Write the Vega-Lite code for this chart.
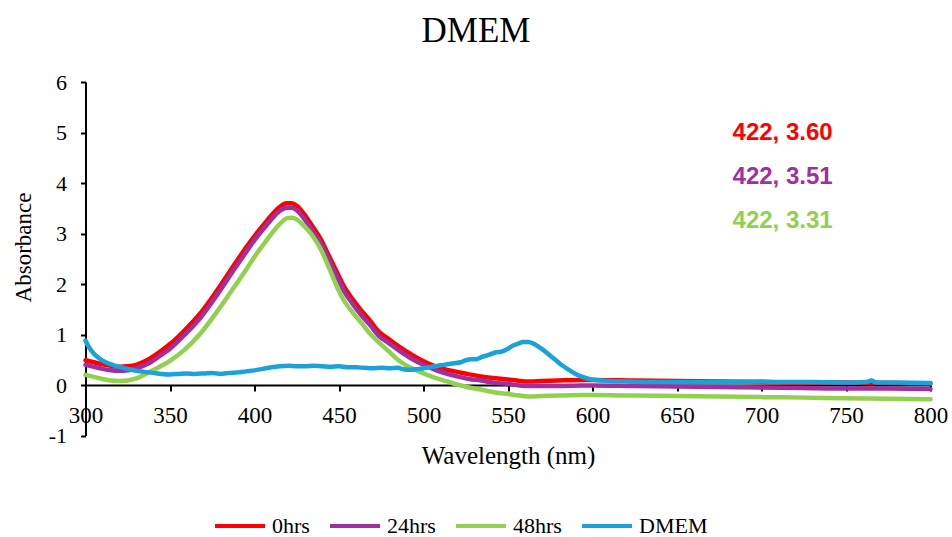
{
  "$schema": "https://vega.github.io/schema/vega-lite/v6.json",
  "width": 845,
  "height": 353.5,
  "autosize": {"type": "none"},
  "padding": {"left": 85.5, "top": 82, "right": 21.5, "bottom": 101.5},
  "background": "white",
  "config": {"view": {"stroke": null}},
  "title": {
    "text": "DMEM",
    "font": "Liberation Serif",
    "fontSize": 35,
    "fontWeight": "normal",
    "color": "black",
    "anchor": "middle",
    "dx": -32,
    "offset": 22
  },
  "datasets": {
    "spectra": [
      {"series":"0hrs","wl":300,"abs":0.49},{"series":"0hrs","wl":305,"abs":0.45},{"series":"0hrs","wl":310,"abs":0.41},{"series":"0hrs","wl":315,"abs":0.38},{"series":"0hrs","wl":320,"abs":0.36},{"series":"0hrs","wl":325,"abs":0.37},{"series":"0hrs","wl":330,"abs":0.40},{"series":"0hrs","wl":338,"abs":0.52},{"series":"0hrs","wl":345,"abs":0.68},{"series":"0hrs","wl":350,"abs":0.81},{"series":"0hrs","wl":358,"abs":1.06},{"series":"0hrs","wl":368,"abs":1.42},{"series":"0hrs","wl":378,"abs":1.88},{"series":"0hrs","wl":388,"abs":2.38},{"series":"0hrs","wl":395,"abs":2.72},{"series":"0hrs","wl":400,"abs":2.95},{"series":"0hrs","wl":407,"abs":3.24},{"series":"0hrs","wl":415,"abs":3.53},{"series":"0hrs","wl":419,"abs":3.60},{"series":"0hrs","wl":422,"abs":3.60},{"series":"0hrs","wl":425,"abs":3.55},{"series":"0hrs","wl":429,"abs":3.40},{"series":"0hrs","wl":434,"abs":3.16},{"series":"0hrs","wl":439,"abs":2.90},{"series":"0hrs","wl":444,"abs":2.56},{"series":"0hrs","wl":449,"abs":2.22},{"series":"0hrs","wl":453,"abs":1.95},{"series":"0hrs","wl":458,"abs":1.70},{"series":"0hrs","wl":463,"abs":1.48},{"series":"0hrs","wl":468,"abs":1.29},{"series":"0hrs","wl":474,"abs":1.04},{"series":"0hrs","wl":479,"abs":0.92},{"series":"0hrs","wl":486,"abs":0.75},{"series":"0hrs","wl":493,"abs":0.60},{"series":"0hrs","wl":500,"abs":0.47},{"series":"0hrs","wl":507,"abs":0.37},{"series":"0hrs","wl":514,"abs":0.30},{"series":"0hrs","wl":520,"abs":0.26},{"series":"0hrs","wl":527,"abs":0.21},{"series":"0hrs","wl":534,"abs":0.17},{"series":"0hrs","wl":541,"abs":0.14},{"series":"0hrs","wl":550,"abs":0.11},{"series":"0hrs","wl":557,"abs":0.08},{"series":"0hrs","wl":563,"abs":0.07},{"series":"0hrs","wl":570,"abs":0.08},{"series":"0hrs","wl":580,"abs":0.09},{"series":"0hrs","wl":593,"abs":0.10},{"series":"0hrs","wl":600,"abs":0.10},{"series":"0hrs","wl":625,"abs":0.09},{"series":"0hrs","wl":650,"abs":0.08},{"series":"0hrs","wl":675,"abs":0.07},{"series":"0hrs","wl":700,"abs":0.06},{"series":"0hrs","wl":725,"abs":0.05},{"series":"0hrs","wl":750,"abs":0.05},{"series":"0hrs","wl":775,"abs":0.04},{"series":"0hrs","wl":800,"abs":0.03},

      {"series":"24hrs","wl":300,"abs":0.40},{"series":"24hrs","wl":305,"abs":0.36},{"series":"24hrs","wl":310,"abs":0.32},{"series":"24hrs","wl":315,"abs":0.29},{"series":"24hrs","wl":320,"abs":0.28},{"series":"24hrs","wl":325,"abs":0.29},{"series":"24hrs","wl":330,"abs":0.33},{"series":"24hrs","wl":338,"abs":0.44},{"series":"24hrs","wl":345,"abs":0.60},{"series":"24hrs","wl":350,"abs":0.72},{"series":"24hrs","wl":358,"abs":0.97},{"series":"24hrs","wl":368,"abs":1.33},{"series":"24hrs","wl":378,"abs":1.79},{"series":"24hrs","wl":388,"abs":2.29},{"series":"24hrs","wl":395,"abs":2.63},{"series":"24hrs","wl":400,"abs":2.87},{"series":"24hrs","wl":407,"abs":3.16},{"series":"24hrs","wl":415,"abs":3.45},{"series":"24hrs","wl":419,"abs":3.51},{"series":"24hrs","wl":422,"abs":3.51},{"series":"24hrs","wl":425,"abs":3.46},{"series":"24hrs","wl":429,"abs":3.31},{"series":"24hrs","wl":434,"abs":3.07},{"series":"24hrs","wl":439,"abs":2.82},{"series":"24hrs","wl":444,"abs":2.48},{"series":"24hrs","wl":449,"abs":2.13},{"series":"24hrs","wl":453,"abs":1.86},{"series":"24hrs","wl":458,"abs":1.61},{"series":"24hrs","wl":463,"abs":1.39},{"series":"24hrs","wl":468,"abs":1.20},{"series":"24hrs","wl":474,"abs":0.96},{"series":"24hrs","wl":479,"abs":0.84},{"series":"24hrs","wl":486,"abs":0.67},{"series":"24hrs","wl":493,"abs":0.52},{"series":"24hrs","wl":500,"abs":0.40},{"series":"24hrs","wl":507,"abs":0.30},{"series":"24hrs","wl":514,"abs":0.22},{"series":"24hrs","wl":520,"abs":0.17},{"series":"24hrs","wl":527,"abs":0.12},{"series":"24hrs","wl":534,"abs":0.09},{"series":"24hrs","wl":541,"abs":0.05},{"series":"24hrs","wl":550,"abs":0.02},{"series":"24hrs","wl":557,"abs":-0.01},{"series":"24hrs","wl":563,"abs":-0.02},{"series":"24hrs","wl":570,"abs":-0.02},{"series":"24hrs","wl":580,"abs":-0.02},{"series":"24hrs","wl":593,"abs":-0.01},{"series":"24hrs","wl":600,"abs":-0.01},{"series":"24hrs","wl":625,"abs":-0.02},{"series":"24hrs","wl":650,"abs":-0.03},{"series":"24hrs","wl":675,"abs":-0.04},{"series":"24hrs","wl":700,"abs":-0.05},{"series":"24hrs","wl":725,"abs":-0.06},{"series":"24hrs","wl":750,"abs":-0.07},{"series":"24hrs","wl":775,"abs":-0.07},{"series":"24hrs","wl":800,"abs":-0.08},

      {"series":"48hrs","wl":300,"abs":0.20},{"series":"48hrs","wl":305,"abs":0.16},{"series":"48hrs","wl":310,"abs":0.12},{"series":"48hrs","wl":315,"abs":0.09},{"series":"48hrs","wl":320,"abs":0.08},{"series":"48hrs","wl":325,"abs":0.09},{"series":"48hrs","wl":330,"abs":0.13},{"series":"48hrs","wl":338,"abs":0.26},{"series":"48hrs","wl":345,"abs":0.38},{"series":"48hrs","wl":350,"abs":0.48},{"series":"48hrs","wl":358,"abs":0.68},{"series":"48hrs","wl":368,"abs":1.02},{"series":"48hrs","wl":378,"abs":1.46},{"series":"48hrs","wl":388,"abs":1.94},{"series":"48hrs","wl":395,"abs":2.28},{"series":"48hrs","wl":400,"abs":2.54},{"series":"48hrs","wl":407,"abs":2.86},{"series":"48hrs","wl":415,"abs":3.19},{"series":"48hrs","wl":419,"abs":3.30},{"series":"48hrs","wl":422,"abs":3.31},{"series":"48hrs","wl":425,"abs":3.28},{"series":"48hrs","wl":429,"abs":3.16},{"series":"48hrs","wl":434,"abs":2.97},{"series":"48hrs","wl":439,"abs":2.70},{"series":"48hrs","wl":444,"abs":2.33},{"series":"48hrs","wl":449,"abs":1.93},{"series":"48hrs","wl":453,"abs":1.67},{"series":"48hrs","wl":458,"abs":1.44},{"series":"48hrs","wl":463,"abs":1.24},{"series":"48hrs","wl":468,"abs":1.03},{"series":"48hrs","wl":474,"abs":0.83},{"series":"48hrs","wl":479,"abs":0.68},{"series":"48hrs","wl":486,"abs":0.47},{"series":"48hrs","wl":493,"abs":0.33},{"series":"48hrs","wl":500,"abs":0.23},{"series":"48hrs","wl":507,"abs":0.14},{"series":"48hrs","wl":514,"abs":0.07},{"series":"48hrs","wl":520,"abs":0.01},{"series":"48hrs","wl":527,"abs":-0.05},{"series":"48hrs","wl":534,"abs":-0.09},{"series":"48hrs","wl":541,"abs":-0.14},{"series":"48hrs","wl":550,"abs":-0.18},{"series":"48hrs","wl":557,"abs":-0.21},{"series":"48hrs","wl":563,"abs":-0.23},{"series":"48hrs","wl":570,"abs":-0.22},{"series":"48hrs","wl":580,"abs":-0.21},{"series":"48hrs","wl":593,"abs":-0.20},{"series":"48hrs","wl":600,"abs":-0.20},{"series":"48hrs","wl":625,"abs":-0.21},{"series":"48hrs","wl":650,"abs":-0.22},{"series":"48hrs","wl":675,"abs":-0.23},{"series":"48hrs","wl":700,"abs":-0.24},{"series":"48hrs","wl":725,"abs":-0.25},{"series":"48hrs","wl":750,"abs":-0.26},{"series":"48hrs","wl":775,"abs":-0.27},{"series":"48hrs","wl":800,"abs":-0.28},

      {"series":"DMEM","wl":300,"abs":0.88},{"series":"DMEM","wl":302,"abs":0.75},{"series":"DMEM","wl":305,"abs":0.62},{"series":"DMEM","wl":308,"abs":0.53},{"series":"DMEM","wl":312,"abs":0.45},{"series":"DMEM","wl":316,"abs":0.40},{"series":"DMEM","wl":320,"abs":0.36},{"series":"DMEM","wl":325,"abs":0.32},{"series":"DMEM","wl":330,"abs":0.28},{"series":"DMEM","wl":335,"abs":0.26},{"series":"DMEM","wl":340,"abs":0.24},{"series":"DMEM","wl":345,"abs":0.22},{"series":"DMEM","wl":350,"abs":0.21},{"series":"DMEM","wl":355,"abs":0.22},{"series":"DMEM","wl":360,"abs":0.23},{"series":"DMEM","wl":365,"abs":0.22},{"series":"DMEM","wl":370,"abs":0.23},{"series":"DMEM","wl":375,"abs":0.24},{"series":"DMEM","wl":380,"abs":0.22},{"series":"DMEM","wl":385,"abs":0.24},{"series":"DMEM","wl":390,"abs":0.25},{"series":"DMEM","wl":395,"abs":0.27},{"series":"DMEM","wl":400,"abs":0.29},{"series":"DMEM","wl":405,"abs":0.32},{"series":"DMEM","wl":410,"abs":0.35},{"series":"DMEM","wl":415,"abs":0.37},{"series":"DMEM","wl":420,"abs":0.38},{"series":"DMEM","wl":425,"abs":0.37},{"series":"DMEM","wl":430,"abs":0.37},{"series":"DMEM","wl":435,"abs":0.38},{"series":"DMEM","wl":440,"abs":0.37},{"series":"DMEM","wl":445,"abs":0.36},{"series":"DMEM","wl":450,"abs":0.37},{"series":"DMEM","wl":455,"abs":0.35},{"series":"DMEM","wl":460,"abs":0.35},{"series":"DMEM","wl":465,"abs":0.34},{"series":"DMEM","wl":470,"abs":0.33},{"series":"DMEM","wl":475,"abs":0.34},{"series":"DMEM","wl":480,"abs":0.33},{"series":"DMEM","wl":485,"abs":0.34},{"series":"DMEM","wl":488,"abs":0.31},{"series":"DMEM","wl":492,"abs":0.30},{"series":"DMEM","wl":496,"abs":0.31},{"series":"DMEM","wl":500,"abs":0.33},{"series":"DMEM","wl":505,"abs":0.36},{"series":"DMEM","wl":510,"abs":0.39},{"series":"DMEM","wl":514,"abs":0.41},{"series":"DMEM","wl":518,"abs":0.43},{"series":"DMEM","wl":522,"abs":0.45},{"series":"DMEM","wl":525,"abs":0.49},{"series":"DMEM","wl":528,"abs":0.51},{"series":"DMEM","wl":531,"abs":0.51},{"series":"DMEM","wl":535,"abs":0.56},{"series":"DMEM","wl":539,"abs":0.60},{"series":"DMEM","wl":543,"abs":0.65},{"series":"DMEM","wl":546,"abs":0.66},{"series":"DMEM","wl":550,"abs":0.72},{"series":"DMEM","wl":553,"abs":0.78},{"series":"DMEM","wl":556,"abs":0.82},{"series":"DMEM","wl":559,"abs":0.85},{"series":"DMEM","wl":562,"abs":0.85},{"series":"DMEM","wl":565,"abs":0.82},{"series":"DMEM","wl":568,"abs":0.76},{"series":"DMEM","wl":571,"abs":0.69},{"series":"DMEM","wl":575,"abs":0.58},{"series":"DMEM","wl":578,"abs":0.50},{"series":"DMEM","wl":582,"abs":0.39},{"series":"DMEM","wl":586,"abs":0.30},{"series":"DMEM","wl":590,"abs":0.22},{"series":"DMEM","wl":594,"abs":0.16},{"series":"DMEM","wl":598,"abs":0.12},{"series":"DMEM","wl":602,"abs":0.10},{"series":"DMEM","wl":610,"abs":0.08},{"series":"DMEM","wl":620,"abs":0.07},{"series":"DMEM","wl":640,"abs":0.06},{"series":"DMEM","wl":660,"abs":0.06},{"series":"DMEM","wl":680,"abs":0.06},{"series":"DMEM","wl":700,"abs":0.07},{"series":"DMEM","wl":710,"abs":0.06},{"series":"DMEM","wl":730,"abs":0.06},{"series":"DMEM","wl":750,"abs":0.05},{"series":"DMEM","wl":762,"abs":0.06},{"series":"DMEM","wl":765,"abs":0.09},{"series":"DMEM","wl":768,"abs":0.05},{"series":"DMEM","wl":780,"abs":0.05},{"series":"DMEM","wl":800,"abs":0.04}
    ],
    "notes": [
      {"series":"0hrs","wl":712.5,"abs":4.85,"label":"422, 3.60"},
      {"series":"24hrs","wl":712.5,"abs":3.98,"label":"422, 3.51"},
      {"series":"48hrs","wl":712.5,"abs":3.11,"label":"422, 3.31"}
    ]
  },
  "layer": [
    {
      "data": {"name": "spectra"},
      "mark": {"type": "line", "strokeWidth": 4.5, "interpolate": "monotone", "strokeCap": "round", "strokeJoin": "round"},
      "encoding": {
        "x": {
          "field": "wl", "type": "quantitative",
          "scale": {"domain": [300, 800], "nice": false, "zero": false},
          "axis": {
            "values": [300, 350, 400, 450, 500, 550, 600, 650, 700, 750, 800],
            "offset": -50.5,
            "grid": false,
            "title": "Wavelength (nm)",
            "titleFont": "Liberation Serif", "titleFontSize": 25, "titleFontWeight": "normal", "titleColor": "black",
            "titleBaseline": "alphabetic", "titleY": 78,
            "labelFont": "Liberation Serif", "labelFontSize": 23, "labelColor": "black",
            "labelPadding": 13, "labelFlush": false, "labelOverlap": false,
            "domainColor": "black", "domainWidth": 2,
            "tickColor": "black", "tickWidth": 2, "tickSize": 6
          }
        },
        "y": {
          "field": "abs", "type": "quantitative",
          "scale": {"domain": [-1, 6], "nice": false, "zero": false},
          "axis": {
            "values": [-1, 0, 1, 2, 3, 4, 5, 6],
            "labelExpr": "'' + datum.value",
            "grid": false,
            "title": "Absorbance",
            "titleFont": "Liberation Serif", "titleFontSize": 23, "titleFontWeight": "normal", "titleColor": "black",
            "titleAngle": -90, "titleBaseline": "alphabetic", "titleAlign": "center",
            "titleX": -55, "titleY": 165,
            "labelFont": "Liberation Serif", "labelFontSize": 22, "labelColor": "black",
            "labelPadding": 14, "labelFlush": false,
            "domainColor": "black", "domainWidth": 2,
            "tickColor": "black", "tickWidth": 2, "tickSize": 5
          }
        },
        "color": {
          "field": "series", "type": "nominal",
          "scale": {"domain": ["0hrs", "24hrs", "48hrs", "DMEM"], "range": ["#FF0000", "#A0309F", "#92D050", "#1BA1DB"]},
          "legend": {
            "title": null,
            "orient": "none",
            "direction": "horizontal",
            "legendX": 127.5,
            "legendY": 417,
            "padding": 0,
            "symbolType": "stroke",
            "symbolSize": 2500,
            "symbolStrokeWidth": 4,
            "labelFont": "Liberation Serif",
            "labelFontSize": 22,
            "labelColor": "black",
            "labelOffset": 5,
            "columnPadding": 12
          }
        }
      }
    },
    {
      "data": {"name": "notes"},
      "mark": {"type": "text", "font": "Liberation Sans", "fontWeight": "bold", "fontSize": 24, "align": "center", "baseline": "alphabetic"},
      "encoding": {
        "x": {"field": "wl", "type": "quantitative"},
        "y": {"field": "abs", "type": "quantitative"},
        "text": {"field": "label"},
        "color": {"field": "series", "type": "nominal", "legend": null}
      }
    }
  ]
}
